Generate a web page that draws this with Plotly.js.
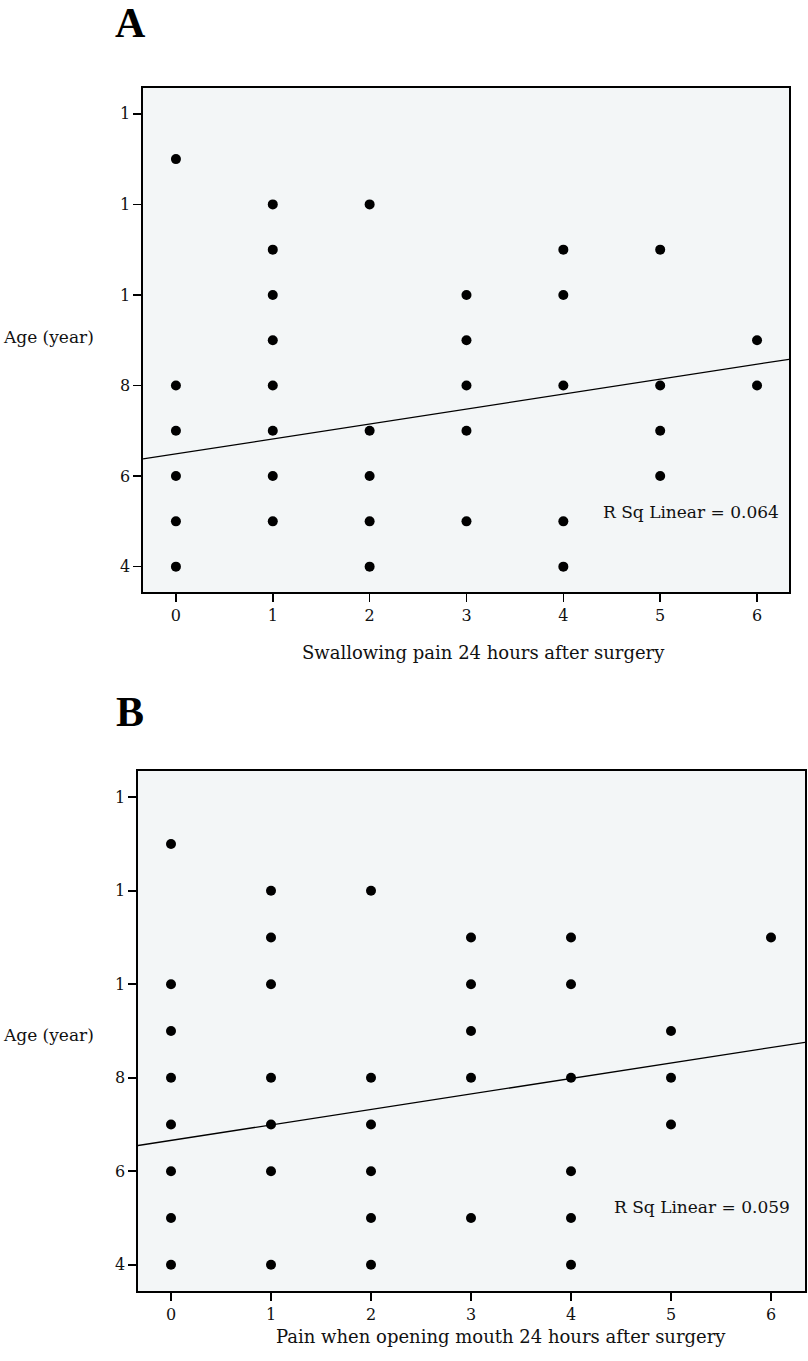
<!DOCTYPE html>
<html>
<head>
<meta charset="utf-8">
<script src="https://cdn.plot.ly/plotly-3.0.1.min.js"></script>
<style>html,body{margin:0;padding:0;background:#fff;}#chart{width:808px;height:1361px;}</style>
</head>
<body>
<div id="chart"></div>
<script>
// Panel A: swallowing pain (x) vs age (y)
const painA = [0,0,0,0,0,0, 1,1,1,1,1,1,1,1, 2,2,2,2,2, 3,3,3,3,3, 4,4,4,4,4, 5,5,5,5, 6,6];
const ageA  = [13,8,7,6,5,4, 12,11,10,9,8,7,6,5, 12,7,6,5,4, 10,9,8,7,5, 11,10,8,5,4, 11,8,7,6, 9,8];
const fitA = {intercept: 6.49, slope: 0.33};
const rsqA = "R Sq Linear = 0.064";

// Panel B: pain when opening mouth (x) vs age (y)
const painB = [0,0,0,0,0,0,0,0, 1,1,1,1,1,1,1, 2,2,2,2,2,2, 3,3,3,3,3, 4,4,4,4,4,4, 5,5,5, 6];
const ageB  = [13,10,9,8,7,6,5,4, 12,11,10,8,7,6,4, 12,8,7,6,5,4, 11,10,9,8,5, 11,10,8,6,5,4, 9,8,7, 11];
const fitB = {intercept: 6.66, slope: 0.331};
const rsqB = "R Sq Linear = 0.059";

const yTickVals = [4,6,8,10,12,14];
const yTickText = ["4","6","8","1","1","1"];
const xTickVals = [0,1,2,3,4,5,6];
const xTickText = ["0","1","2","3","4","5","6"];

const xRangeA = [-0.34, 6.33], yRangeA = [3.44, 14.57];
const xRangeB = [-0.33, 6.34], yRangeB = [3.44, 14.56];

const W = 808, H = 1361;
const px = v => v / W;
const py = v => 1 - v / H;
const FONT = "DejaVu Serif, Liberation Serif, serif";
const TFONT = "Liberation Serif, DejaVu Serif, serif";

function fitLine(fit, xr) {
  return {x: xr, y: xr.map(v => fit.intercept + fit.slope * v)};
}
const lA = fitLine(fitA, xRangeA), lB = fitLine(fitB, xRangeB);

const traces = [
  {x: painA, y: ageA, type: 'scatter', mode: 'markers', xaxis: 'x', yaxis: 'y',
   marker: {color: '#000', size: 10}, hoverinfo: 'x+y', showlegend: false},
  {x: lA.x, y: lA.y, type: 'scatter', mode: 'lines', xaxis: 'x', yaxis: 'y',
   line: {color: '#000', width: 1.3}, showlegend: false},
  {x: painB, y: ageB, type: 'scatter', mode: 'markers', xaxis: 'x2', yaxis: 'y2',
   marker: {color: '#000', size: 10}, hoverinfo: 'x+y', showlegend: false},
  {x: lB.x, y: lB.y, type: 'scatter', mode: 'lines', xaxis: 'x2', yaxis: 'y2',
   line: {color: '#000', width: 1.3}, showlegend: false}
];

const axCommon = {
  showgrid: false, zeroline: false, showline: true, mirror: true,
  linecolor: '#000', linewidth: 1.6, ticks: 'outside', ticklen: 8, tickwidth: 1.6,
  tickcolor: '#000', tickfont: {family: FONT, size: 16, color: '#111'}, fixedrange: true
};

const layout = {
  width: W, height: H,
  margin: {l: 0, r: 0, t: 0, b: 0},
  paper_bgcolor: '#fff', plot_bgcolor: '#f3f6f7',
  font: {family: FONT, color: '#111'},
  showlegend: false,
  xaxis: Object.assign({}, axCommon, {domain: [px(143), px(789)], range: xRangeA,
    tickvals: xTickVals, ticktext: xTickText, anchor: 'y'}),
  yaxis: Object.assign({}, axCommon, {domain: [py(592), py(88)], range: yRangeA,
    tickvals: yTickVals, ticktext: yTickText, anchor: 'x'}),
  xaxis2: Object.assign({}, axCommon, {domain: [px(138), px(805)], range: xRangeB,
    tickvals: xTickVals, ticktext: xTickText, anchor: 'y2'}),
  yaxis2: Object.assign({}, axCommon, {domain: [py(1291), py(771)], range: yRangeB,
    tickvals: yTickVals, ticktext: yTickText, anchor: 'x2'}),
  annotations: [
    {text: "<b>A</b>", xref: 'paper', yref: 'paper', x: px(130), y: py(23),
     xanchor: 'center', yanchor: 'middle', showarrow: false, font: {family: TFONT, size: 42, color: '#000'}},
    {text: "<b>B</b>", xref: 'paper', yref: 'paper', x: px(130), y: py(712),
     xanchor: 'center', yanchor: 'middle', showarrow: false, font: {family: TFONT, size: 42, color: '#000'}},
    {text: "Age (year)", xref: 'paper', yref: 'paper', x: px(1), y: py(337),
     xanchor: 'left', yanchor: 'middle', showarrow: false, font: {family: FONT, size: 17, color: '#111'}},
    {text: "Age (year)", xref: 'paper', yref: 'paper', x: px(1), y: py(1035),
     xanchor: 'left', yanchor: 'middle', showarrow: false, font: {family: FONT, size: 17, color: '#111'}},
    {text: "Swallowing pain 24 hours after surgery", xref: 'paper', yref: 'paper', x: px(483), y: py(652),
     xanchor: 'center', yanchor: 'middle', showarrow: false, font: {family: FONT, size: 18, color: '#111'}},
    {text: "Pain when opening mouth 24 hours after surgery", xref: 'paper', yref: 'paper', x: px(501), y: py(1336),
     xanchor: 'center', yanchor: 'middle', showarrow: false, font: {family: FONT, size: 18, color: '#111'}},
    {text: rsqA, xref: 'paper', yref: 'paper', x: px(781), y: py(512),
     xanchor: 'right', yanchor: 'middle', showarrow: false, font: {family: FONT, size: 17, color: '#111'}},
    {text: rsqB, xref: 'paper', yref: 'paper', x: px(792), y: py(1207),
     xanchor: 'right', yanchor: 'middle', showarrow: false, font: {family: FONT, size: 17, color: '#111'}}
  ]
};

Plotly.newPlot('chart', traces, layout, {staticPlot: true, displayModeBar: false});
</script>
</body>
</html>
